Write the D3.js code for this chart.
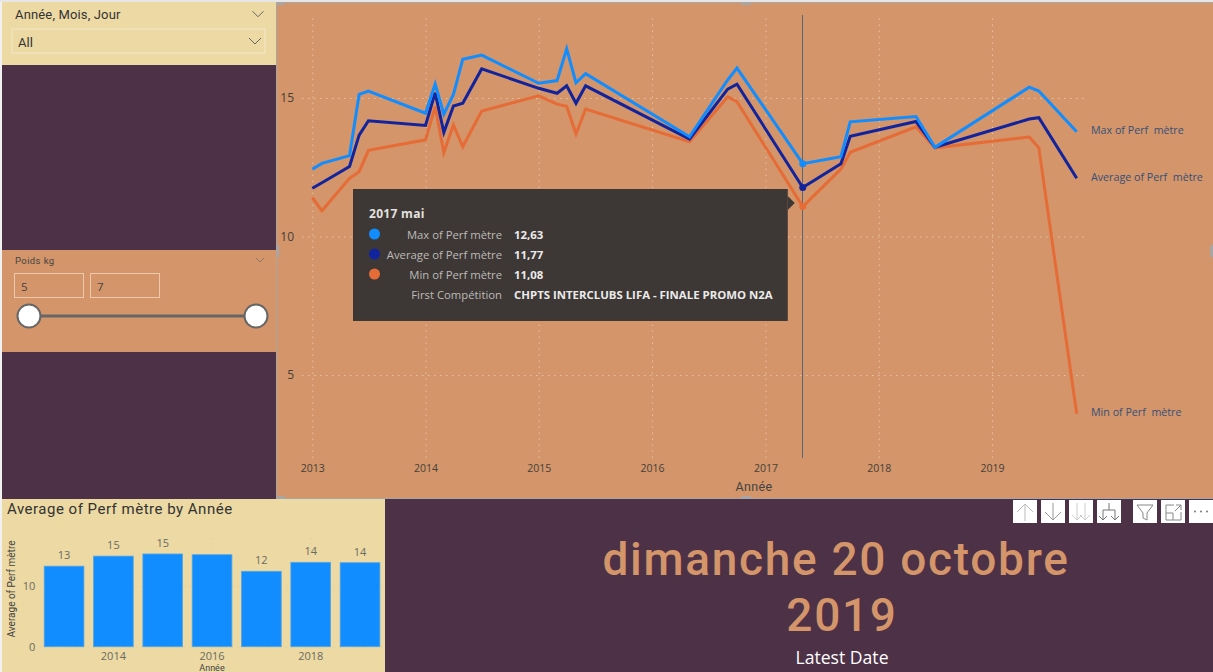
<!DOCTYPE html>
<html>
<head>
<meta charset="utf-8">
<script src="https://cdn.jsdelivr.net/npm/d3@7"></script>
<style>
  html, body { margin: 0; padding: 0; background: #4d3146; overflow: hidden; }
  text { font-family: "Open Sans", "Noto Sans", sans-serif; white-space: pre; }
  .din { font-family: "Roboto", sans-serif; }
</style>
</head>
<body>
<script>
// line chart data
var months = ["2013-01","2013-02","2013-05","2013-06","2013-07","2014-01","2014-02","2014-03","2014-04","2014-05","2014-07","2015-01","2015-03","2015-04","2015-05","2015-06","2016-05","2016-09","2016-10","2017-05","2017-09","2017-10","2018-05","2018-07","2019-05","2019-06","2019-10"];
var maxPerf = [12.43,12.64,12.92,15.13,15.25,14.45,15.5,14.42,15.13,16.4,16.55,15.53,15.63,16.77,15.55,15.88,13.6,15.65,16.08,12.63,12.88,14.14,14.33,13.22,15.39,15.25,13.78];
var avgPerf = [11.74,11.94,12.53,13.66,14.18,14.01,15.19,13.76,14.71,14.81,16.05,15.35,15.17,15.44,14.81,15.44,13.52,15.32,15.5,11.77,12.63,13.62,14.15,13.22,14.24,14.29,12.1];
var minPerf = [11.4,10.93,12.1,12.34,13.11,13.49,14.69,13.03,14.03,13.24,14.53,15.08,14.78,14.7,13.7,14.6,13.42,15.04,14.87,11.08,12.43,13.04,13.96,13.2,13.59,13.2,3.6];
var seriesNames = ["Max of Perf  mètre","Average of Perf  mètre","Min of Perf  mètre"];
var seriesColors = ["#118dff","#12239e","#e66c37"];
var lineYears = [2013,2014,2015,2016,2017,2018,2019];
var lineYTicks = [5,10,15];

// bar chart data
var barYears = [2013,2014,2015,2016,2017,2018,2019];
var barValues = [13.2,14.85,15.2,15.08,12.36,13.83,13.77];
var barLabels = ["13","15","15",null,"12","14","14"];
var barXTicks = [2014,2016,2018];
var barYTicks = [0,10];

// tooltip
var tipTitle = "2017 mai";
var tipNames = ["Max of Perf mètre","Average of Perf mètre","Min of Perf mètre","First Compétition"];
var tipValues = ["12,63","11,77","11,08","CHPTS INTERCLUBS LIFA - FINALE PROMO N2A"];
var hoverMonth = "2017-05";

var svg = d3.select("body").append("svg")
    .attr("width", 1213)
    .attr("height", 672)
    .style("display", "block");

var tan = "#d39569", sand = "#ecd9a3", plum = "#4d3146";

function panel(x, y, w, h, fill) {
    svg.append("rect").attr("x", x).attr("y", y).attr("width", w).attr("height", h).attr("fill", fill);
}
function chevron(cx, cy, w, color) {
    svg.append("path")
        .attr("d", "M" + (cx - w) + "," + (cy - w / 2) + "L" + cx + "," + (cy + w / 2) + "L" + (cx + w) + "," + (cy - w / 2))
        .attr("fill", "none").attr("stroke", color).attr("stroke-width", 1);
}

// page edge
panel(0, 0, 2, 672, "#f1f1f1");
panel(0, 0, 1213, 2, "#e6e6e6");

// date slicer
panel(2, 2, 274, 63, sand);
svg.append("text").attr("class", "din").attr("x", 15).attr("y", 19).attr("font-size", 13).attr("fill", "#333").attr("letter-spacing", 0.15).text("Année, Mois, Jour");
chevron(258, 14, 5.5, "#666");
svg.append("rect").attr("x", 12).attr("y", 29).attr("width", 253).attr("height", 24).attr("fill", "none").attr("stroke", "#f4e8c8").attr("stroke-width", 1);
svg.append("text").attr("class", "din").attr("x", 18).attr("y", 47).attr("font-size", 13).attr("fill", "#333").text("All");
chevron(255, 41, 6, "#666");

// weight slicer
panel(2, 250, 274, 102, tan);
svg.append("text").attr("class", "din").attr("x", 15).attr("y", 264).attr("font-size", 9.5).attr("fill", "#444").attr("letter-spacing", 0.4).text("Poids kg");
chevron(260, 260, 4, "#8a7a6a");
[[14, "5"], [90, "7"]].forEach(function(b) {
    svg.append("rect").attr("x", b[0] + 0.5).attr("y", 273.5).attr("width", 69).attr("height", 24).attr("fill", "none").attr("stroke", "#ecc9ad").attr("stroke-width", 1);
    svg.append("text").attr("x", b[0] + 7).attr("y", 291).attr("font-size", 11.5).attr("fill", "#444").text(b[1]);
});
svg.append("line").attr("x1", 29).attr("x2", 256).attr("y1", 316).attr("y2", 316).attr("stroke", "#666").attr("stroke-width", 3);
[29, 256].forEach(function(cx) {
    svg.append("circle").attr("cx", cx).attr("cy", 316).attr("r", 11.5).attr("fill", "#fff").attr("stroke", "#666").attr("stroke-width", 2);
});

// main line chart
panel(277, 2, 936, 496, tan);
svg.append("rect").attr("x", 276.5).attr("y", 2.5).attr("width", 940).attr("height", 496).attr("fill", "none").attr("stroke", "#a9a5a2").attr("stroke-width", 1);
// selection handles on the visual frame
[[277, 2, 8, 3], [741, 2, 10, 3], [277, 496, 8, 3], [741, 496, 10, 3], [276, 245, 3, 12], [1210, 245, 3, 12]].forEach(function(h) {
    panel(h[0], h[1], h[2], h[3], "#a9a5a2");
});

var parseMonth = d3.timeParse("%Y-%m");
var dates = months.map(parseMonth);

var x = d3.scaleTime()
    .domain([new Date(2013, 0, 1), new Date(2019, 0, 1)])
    .range([312.3, 992]);
var y = d3.scaleLinear()
    .domain([5, 15])
    .range([375, 98]);

var grid = "#e3c3a7";
var xAxis = d3.axisBottom(x)
    .tickValues(lineYears.map(function(d) { return new Date(d, 0, 1); }))
    .tickFormat(d3.timeFormat("%Y"))
    .tickSize(-443)
    .tickPadding(7);
var yAxis = d3.axisLeft(y)
    .tickValues(lineYTicks)
    .tickSize(-783)
    .tickPadding(8);

var gx = svg.append("g").attr("transform", "translate(0,458)").call(xAxis);
var gy = svg.append("g").attr("transform", "translate(302,0)").call(yAxis);
[gx, gy].forEach(function(g) {
    g.select(".domain").remove();
    g.selectAll("line").attr("stroke", grid).attr("stroke-dasharray", "1.5,4.5");
    g.selectAll("text").attr("fill", "#44403c").style("font-family", '"Open Sans", sans-serif');
});
gx.selectAll("text").attr("font-size", 10.5);
gy.selectAll("text").attr("font-size", 12);

svg.append("text").attr("class", "din").attr("x", 754).attr("y", 491).attr("text-anchor", "middle").attr("font-size", 12.5).attr("fill", "#444").attr("letter-spacing", 0.4).text("Année");

var line = d3.line()
    .x(function(d, i) { return x(dates[i]); })
    .y(function(d) { return y(d); });

var seriesValues = [minPerf, avgPerf, maxPerf];
var drawColors = [seriesColors[2], seriesColors[1], seriesColors[0]];
svg.selectAll(".perf")
    .data(seriesValues)
    .enter()
    .append("path")
    .attr("class", "perf")
    .attr("d", line)
    .attr("fill", "none")
    .attr("stroke-width", 3)
    .attr("stroke-linejoin", "miter")
    .attr("stroke", function(d, i) { return drawColors[i]; });

// hover line + markers
var hoverIndex = months.indexOf(hoverMonth);
var hoverX = x(dates[hoverIndex]);
svg.append("line").attr("x1", hoverX).attr("x2", hoverX).attr("y1", 15).attr("y2", 458)
    .attr("stroke", "#5b6670").attr("stroke-width", 1).attr("shape-rendering", "crispEdges");
svg.selectAll(".marker")
    .data(seriesValues)
    .enter()
    .append("circle")
    .attr("class", "marker")
    .attr("cx", hoverX)
    .attr("cy", function(d) { return y(d[hoverIndex]); })
    .attr("r", 3.5)
    .attr("fill", function(d, i) { return drawColors[i]; });

// end of line labels
[maxPerf, avgPerf, minPerf].forEach(function(vals, i) {
    svg.append("text")
        .attr("x", 1091)
        .attr("y", y(vals[vals.length - 1]) + 2.5)
        .attr("font-size", 10.7)
        .attr("fill", "#35507a")
        .text(seriesNames[i]);
});

// tooltip
var tipRight = hoverX - 15;
svg.append("rect").attr("x", 353).attr("y", 189).attr("width", tipRight - 353).attr("height", 132).attr("fill", "#3d3835");
svg.append("path").attr("d", "M" + tipRight + ",196L" + (tipRight + 7) + ",203L" + tipRight + ",210Z").attr("fill", "#3d3835");
svg.append("text").attr("x", 369).attr("y", 218).attr("font-size", 12).attr("font-weight", 700).attr("fill", "#e3e1df").attr("letter-spacing", 0.3).text(tipTitle);
tipNames.forEach(function(name, i) {
    var rowY = 235 + i * 20;
    if (i < 3) {
        svg.append("circle").attr("cx", 374.5).attr("cy", rowY - 1).attr("r", 5.5).attr("fill", seriesColors[i]);
    }
    svg.append("text").attr("x", 502).attr("y", rowY + 4).attr("text-anchor", "end").attr("font-size", 11.3).attr("fill", "#bdbab7").text(name);
    svg.append("text").attr("x", 514).attr("y", rowY + 4).attr("font-size", 11.4).attr("font-weight", 700).attr("fill", "#ecebea").text(tipValues[i]);
});

// bar chart
panel(2, 499, 383, 173, sand);
svg.append("text").attr("class", "din").attr("x", 7).attr("y", 514).attr("font-size", 15).attr("fill", "#333").attr("letter-spacing", 0.5).text("Average of Perf mètre by Année");

var barX = d3.scaleBand()
    .domain(barYears)
    .range([39.4, 384.7])
    .paddingInner(0.195)
    .paddingOuter(0.0975);
var barY = d3.scaleLinear()
    .domain([0, 10])
    .range([646.7, 585.7]);

var barGridColor = "#e2ce9a";
var barXAxis = d3.axisBottom(barX)
    .tickValues(barXTicks)
    .tickSize(-114)
    .tickPadding(6);
var barYAxis = d3.axisLeft(barY)
    .tickValues(barYTicks)
    .tickSize(-345)
    .tickPadding(4);
var bgx = svg.append("g").attr("transform", "translate(0,646.7)").call(barXAxis);
var bgy = svg.append("g").attr("transform", "translate(39.4,0)").call(barYAxis);
[bgx, bgy].forEach(function(g) {
    g.select(".domain").remove();
    g.selectAll("line").attr("stroke", barGridColor).attr("stroke-dasharray", "1.5,4.5");
    g.selectAll("text").attr("fill", "#6b6b62").attr("font-size", 11).style("font-family", '"Open Sans", sans-serif');
});

svg.selectAll(".bar")
    .data(barValues)
    .enter()
    .append("rect")
    .attr("class", "bar")
    .attr("x", function(d, i) { return barX(barYears[i]); })
    .attr("y", function(d) { return barY(d); })
    .attr("width", barX.bandwidth())
    .attr("height", function(d) { return barY(0) - barY(d); })
    .attr("fill", "#118dff")
    .attr("stroke", "#58a5e0")
    .attr("stroke-width", 0.8);

svg.selectAll(".barlabel")
    .data(barValues)
    .enter()
    .append("text")
    .attr("class", "barlabel")
    .attr("x", function(d, i) { return barX(barYears[i]) + barX.bandwidth() / 2; })
    .attr("y", function(d) { return barY(d) - 7; })
    .attr("text-anchor", "middle")
    .attr("font-size", 11)
    .attr("fill", "#6b6b62")
    .text(function(d, i) { return barLabels[i]; });

svg.append("text")
    .attr("transform", "translate(15,589) rotate(-90)")
    .attr("text-anchor", "middle")
    .attr("class", "din")
    .attr("font-size", 10)
    .attr("fill", "#444")
    .text("Average of Perf mètre");
svg.append("text").attr("class", "din").attr("x", 212).attr("y", 671).attr("text-anchor", "middle").attr("font-size", 9).attr("fill", "#444").text("Année");

// date card
svg.append("text").attr("class", "din").attr("x", 836).attr("y", 575).attr("text-anchor", "middle").attr("font-size", 46).attr("font-weight", 500).attr("fill", tan).attr("letter-spacing", 1.7).text("dimanche 20 octobre");
svg.append("text").attr("class", "din").attr("x", 842).attr("y", 631).attr("text-anchor", "middle").attr("font-size", 46).attr("font-weight", 500).attr("fill", tan).attr("letter-spacing", 1.7).text("2019");
svg.append("text").attr("x", 842).attr("y", 664).attr("text-anchor", "middle").attr("font-size", 17.6).attr("fill", "#fff").text("Latest Date");

// visual header icons
var iconLefts = [1013, 1041, 1069, 1097, 1133, 1161, 1189];
var iconPaths = [
    "M12,21V4M4,12L12,4L20,12",
    "M12,3V20M4,12L12,20L20,12",
    "M8,3V20M3,15L8,20L13,15M16,3V20M11,15L16,20L21,15",
    "M12,3V10M6,20V10H18V20M2,16L6,20L10,16M14,16L18,20L22,16",
    "M4,5H20L14,13V20L10,18V13Z",
    "M5,5H13M5,5V20H20V12M5,13H12V20M14,11L20,5M15,5H20V10",
    null
];
var iconColors = ["#bbb", "#999", "#ccc", "#777", "#888", "#888", "#888"];
iconLefts.forEach(function(left, i) {
    var g = svg.append("g").attr("transform", "translate(" + left + ",500)");
    g.append("rect").attr("width", 24).attr("height", 23).attr("fill", "#fff");
    if (iconPaths[i]) {
        g.append("path").attr("d", iconPaths[i]).attr("fill", "none").attr("stroke", iconColors[i]).attr("stroke-width", 1);
    } else {
        [6, 12, 18].forEach(function(cx) {
            g.append("circle").attr("cx", cx).attr("cy", 11.5).attr("r", 1).attr("fill", "#777");
        });
    }
});
</script>
</body>
</html>
